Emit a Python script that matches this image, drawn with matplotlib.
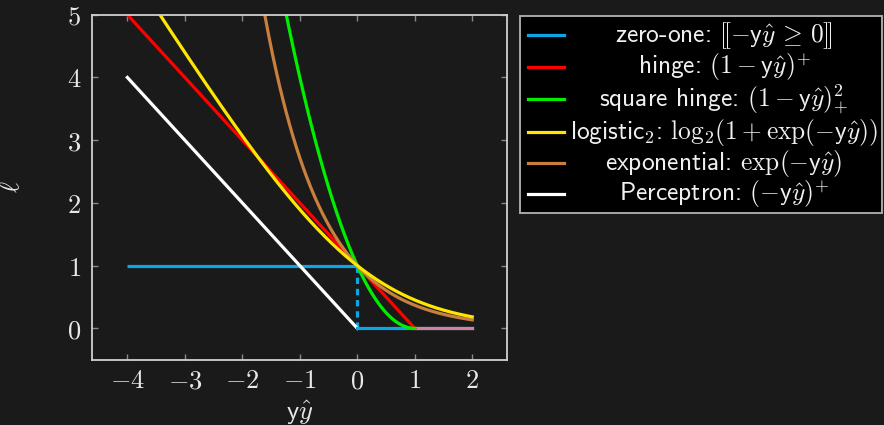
import numpy as np
import matplotlib
matplotlib.use("Agg")
import matplotlib.pyplot as plt
from matplotlib.lines import Line2D
from matplotlib.patches import Rectangle

plt.rcParams['mathtext.fontset'] = 'cm'

# ---- data ----
margin = np.linspace(-4.0, 2.0, 601)          # y * y_hat
xticks = [-4, -3, -2, -1, 0, 1, 2]
xticklabels = [r"$-4$", r"$-3$", r"$-2$", r"$-1$", r"$0$", r"$1$", r"$2$"]
yticks = [0, 1, 2, 3, 4, 5]
yticklabels = [r"$0$", r"$1$", r"$2$", r"$3$", r"$4$", r"$5$"]

# loss curves as given in the legend
zero_one_x = [-4, 0, 0, 0, 2]
zero_one_y = [1, 1, 0, 0, 0]
hinge = np.maximum(1 - margin, 0)
sq_hinge = np.maximum(1 - margin, 0) ** 2
logistic2 = np.log2(1 + np.exp(-margin))
exponential = np.exp(-margin)
perceptron_x = [-4, 0]
perceptron_y = [4, 0]
overlap_x = [1, 2]
overlap_y = [0, 0]

labels = [
    r"zero-one: $[\![-\mathsf{y}\hat{y}\,\geq\, 0]\!]$",
    r"hinge: $(1-\mathsf{y}\hat{y})^{+}$",
    r"square hinge: $(1-\mathsf{y}\hat{y})_{+}^{2}$",
    r"logistic$_\mathsf{2}$: $\mathrm{log}_2(1+\mathrm{exp}(-\mathsf{y}\hat{y}))$",
    r"exponential: $\mathrm{exp}(-\mathsf{y}\hat{y})$",
    r"Perceptron: $(-\mathsf{y}\hat{y})^{+}$",
]
colors = ["#0aa6e6", "#ff0000", "#00ee00", "#ffe600", "#c8803c", "#ffffff"]
overlap_color = "#d87fa0"

# ---- figure ----
W, H = 884, 425
bg = "#1a1a1a"
fig = plt.figure(figsize=(W / 100, H / 100), dpi=100, facecolor=bg)
ax = fig.add_axes([92.3 / W, 1 - 359.7 / H, (507.3 - 92.3) / W, (359.7 - 14.7) / H])
ax.set_facecolor(bg)

lw = 2.3
mh = margin <= 1
ax.plot(zero_one_x[:2], zero_one_y[:2], color=colors[0], lw=lw, solid_capstyle='butt')
ax.plot(zero_one_x[1:3], zero_one_y[1:3], color=colors[0], lw=lw, ls=(0, (2, 1.5)))
ax.plot(perceptron_x, perceptron_y, color=colors[5], lw=lw)
ax.plot(zero_one_x[3:], zero_one_y[3:], color=colors[0], lw=lw)
ax.plot(overlap_x, overlap_y, color=overlap_color, lw=lw)
ax.plot(margin[mh], hinge[mh], color=colors[1], lw=lw)
ax.plot(margin[mh], sq_hinge[mh], color=colors[2], lw=lw)
ax.plot(margin, exponential, color=colors[4], lw=lw)
ax.plot(margin, logistic2, color=colors[3], lw=lw)

ax.set_xlim(-4.61, 2.61)
ax.set_ylim(-0.5, 5)
ax.set_xticks(xticks)
ax.set_xticklabels(xticklabels)
ax.set_yticks(yticks)
ax.set_yticklabels(yticklabels)
ax.tick_params(direction='in', length=4, width=1, color='#8a8a8a',
               labelcolor='#e8e8e8', labelsize=19, top=True, right=True)
ax.tick_params(axis='x', pad=6)
ax.tick_params(axis='y', pad=8)
for s in ax.spines.values():
    s.set_color('#d0d0d0')
    s.set_linewidth(1.3)

ax.set_xlabel(r"$\mathsf{y}\hat{y}$", fontsize=19, color='#e8e8e8', labelpad=3)
ax.set_ylabel(r"$\ell$", fontsize=19, color='#e8e8e8', labelpad=30)

# ---- legend (drawn in figure coords, centred text) ----
box = Rectangle((519.7 / W, 1 - 213 / H), (881.7 - 519.7) / W, (213 - 16) / H,
                transform=fig.transFigure, facecolor='black', edgecolor='#a8a8a8',
                linewidth=1.4, zorder=5)
fig.add_artist(box)
rows = [35, 66.7, 99, 131.7, 162.7, 193.7]
for ypix, lab, c in zip(rows, labels, colors):
    fig.add_artist(Line2D([528 / W, 564 / W], [1 - ypix / H] * 2, color=c, lw=2.3,
                          transform=fig.transFigure, zorder=6))
    fig.text(724 / W, 1 - (ypix + 7.5) / H, lab, ha='center', va='baseline',
             fontsize=18.3, family='cmss10', color='#f0f0f0', zorder=6)

fig.savefig("out.png", dpi=100, facecolor=bg)
